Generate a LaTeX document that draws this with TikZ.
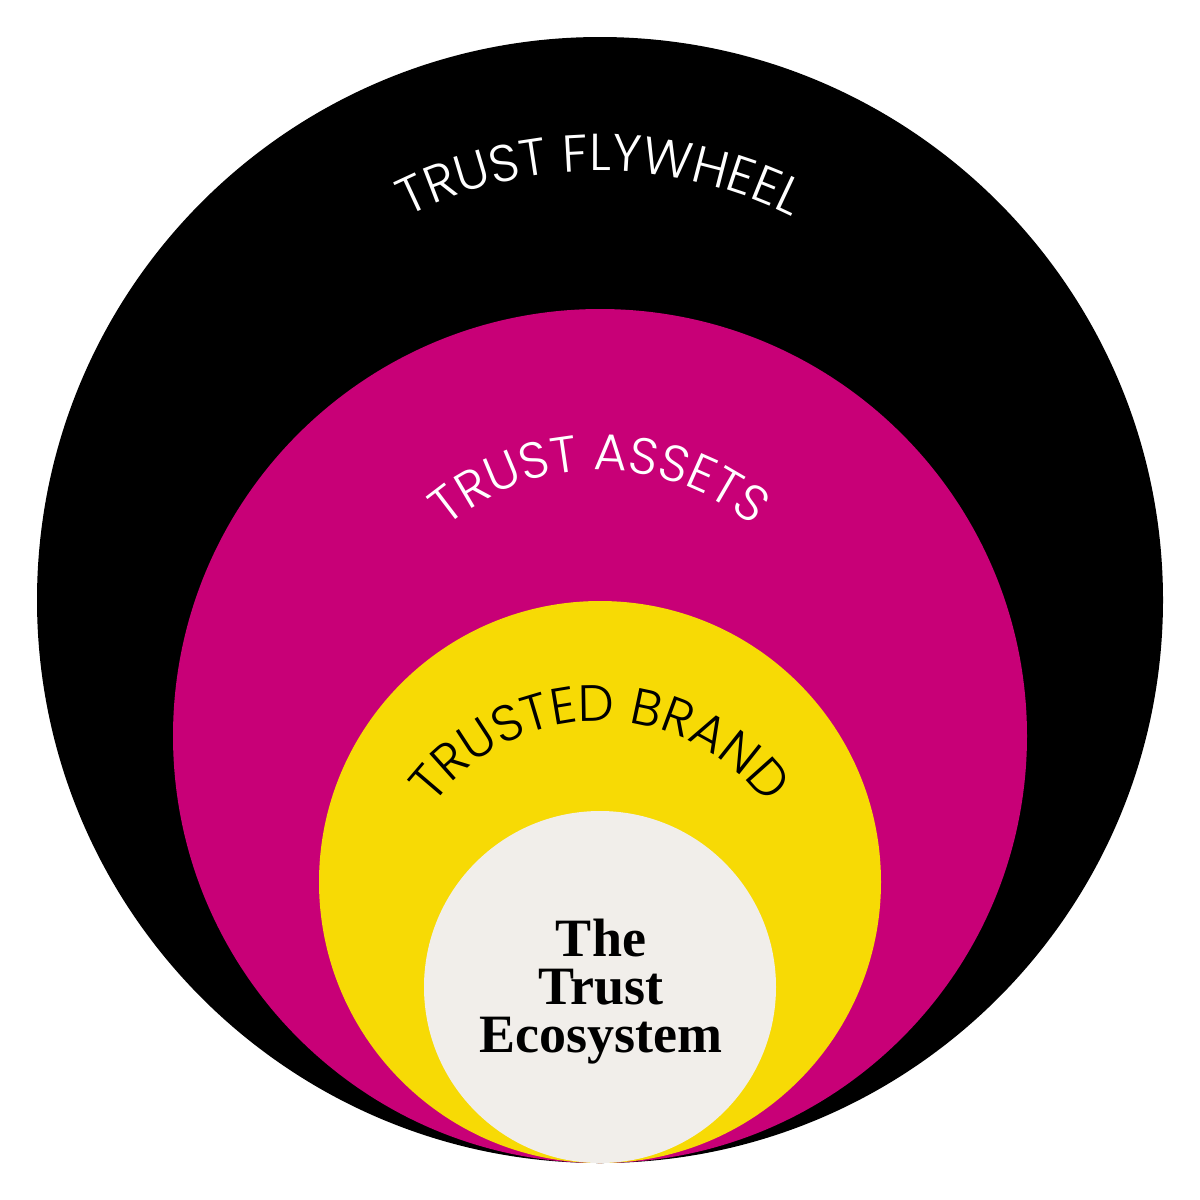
\documentclass[tikz,border=0pt]{standalone}
\usepackage{fontspec}
\usetikzlibrary{decorations.text}
\newfontfamily\lightfont{Poppins Light}
\newfontfamily\serifbold{Liberation Serif Bold}
\definecolor{ringblack}{HTML}{000000}
\definecolor{ringmagenta}{HTML}{C80077}
\definecolor{ringyellow}{HTML}{F7DA05}
\definecolor{ringcream}{HTML}{F1EEEA}
\begin{document}
\begin{tikzpicture}[x=1pt,y=1pt,
  ring/.style={draw=none},
  arclabel/.style={decorate,decoration={text along path,text align=center}}]
\useasboundingbox[fill=white] (0,0) rectangle (1200,-1200);
\fill[ringblack] (600,-600) circle[radius=563];
\fill[ringmagenta] (600,-736) circle[radius=427];
\fill[ringyellow] (600,-882) circle[radius=281];
\fill[ringcream] (600,-987) circle[radius=176];
\path[arclabel,decoration={text={|\lightfont\fontsize{52}{52}\selectfont\color{white}|TRUST FLYWHEEL}}]
  (600,-600) ++(165:429) arc[start angle=165,end angle=15,radius=429];
\path[arclabel,decoration={text={|\lightfont\fontsize{51}{51}\selectfont\color{white}|TRUST ASSETS}}]
  (600,-705) ++(175:235) arc[start angle=175,end angle=5,radius=235];
\path[arclabel,decoration={text={|\lightfont\fontsize{51}{51}\selectfont\color{black}|TRUSTED BRAND}}]
  (600,-929) ++(178:208) arc[start angle=178,end angle=2,radius=208];
\node[align=center,font=\serifbold\fontsize{54}{48}\selectfont,text=black] (core) at (601,-992) {The\\Trust\\Ecosystem};
\end{tikzpicture}
\end{document}
